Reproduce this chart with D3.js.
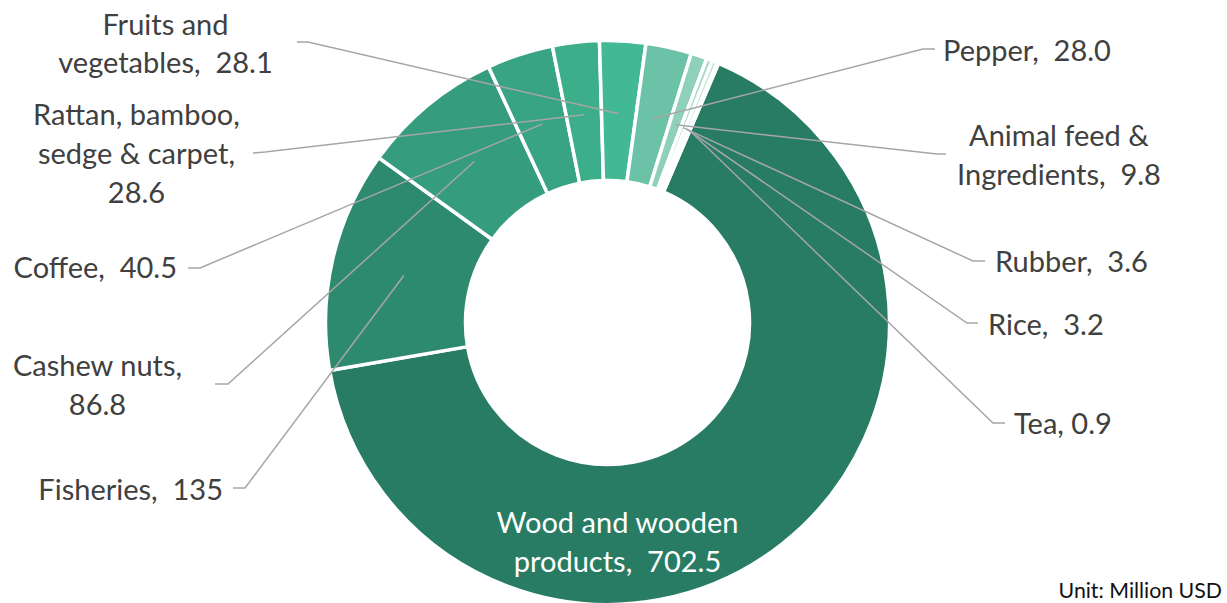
<!DOCTYPE html>
<html>
<head>
<meta charset="utf-8">
<script src="https://cdn.jsdelivr.net/npm/d3@7"></script>
<style>
  html, body { margin: 0; padding: 0; background: #ffffff; }
  svg text { white-space: pre; }
</style>
</head>
<body>
<svg id="chart" width="1227" height="603"></svg>
<script>
// ---------- DATA ----------
const categories = [
  "Wood and wooden products", "Fisheries", "Cashew nuts", "Coffee",
  "Rattan, bamboo, sedge & carpet", "Fruits and vegetables", "Pepper",
  "Animal feed & Ingredients", "Rubber", "Rice", "Tea"
];
const values = [702.5, 135, 86.8, 40.5, 28.6, 28.1, 28.0, 9.8, 3.6, 3.2, 0.9];
const valueLabels = ["702.5", "135", "86.8", "40.5", "28.6", "28.1", "28.0", "9.8", "3.6", "3.2", "0.9"];
const unitLabel = "Unit: Million USD";

// ---------- STYLE / LAYOUT ----------
const colors = ["#287c64", "#2e8a6f", "#359d7e", "#38a483", "#3cae8a", "#42b994",
                "#6cc2a6", "#8fd0b8", "#a9dbc8", "#c0e5d7", "#d6efe5"];
const cx = 607.5, cy = 322.5, rOuter = 282, rInner = 142;
const startDeg = 23.2;
const fontFamily = "Lato, 'Open Sans', sans-serif";
const fontSize = 29;

// label text lines (layout), leader stub points near text
const labelLayout = [
  { lines: ["Wood and wooden", "products,  " + valueLabels[0]], x: 617.5, base: [533, 572], anchor: "middle", fill: "#ffffff", stub: null },
  { lines: ["Fisheries,  " + valueLabels[1]], x: 223, base: [500], anchor: "end", stub: [[233, 488], [245, 488]] },
  { lines: ["Cashew nuts,", valueLabels[2]], x: 97.5, base: [376, 415], anchor: "middle", stub: [[215, 384], [228, 384]] },
  { lines: ["Coffee,  " + valueLabels[3]], x: 177, base: [278], anchor: "end", stub: [[188, 268], [200, 268]] },
  { lines: ["Rattan, bamboo,", "sedge & carpet,", valueLabels[4]], x: 136.5, base: [125, 164, 203], anchor: "middle", stub: [[253, 153], [265, 152]] },
  { lines: ["Fruits and", "vegetables,  " + valueLabels[5]], x: 165.5, base: [35, 73], anchor: "middle", stub: [[297, 42], [308, 42]] },
  { lines: ["Pepper,  " + valueLabels[6]], x: 943, base: [61], anchor: "start", stub: [[935, 49], [923, 49]] },
  { lines: ["Animal feed &", "Ingredients,  " + valueLabels[7]], x: 1059, base: [146, 185], anchor: "middle", stub: [[946, 154], [937, 154]] },
  { lines: ["Rubber,  " + valueLabels[8]], x: 995, base: [272], anchor: "start", stub: [[985, 261], [973, 261]] },
  { lines: ["Rice,  " + valueLabels[9]], x: 988, base: [335], anchor: "start", stub: [[978, 323], [967, 323]] },
  { lines: ["Tea, " + valueLabels[10]], x: 1014, base: [434], anchor: "start", stub: [[1005, 423], [993, 423]] }
];

// ---------- DRAW ----------
const svg = d3.select("#chart");
const a0 = startDeg * Math.PI / 180;
const pie = d3.pie().sort(null).value(d => d.v).startAngle(a0).endAngle(a0 + 2 * Math.PI);
const data = categories.map((c, i) => ({ c, v: values[i], i }));
const arcs = pie(data);

const arc = d3.arc().innerRadius(rInner).outerRadius(rOuter);
const midArc = d3.arc().innerRadius((rInner + rOuter) / 2 - 3).outerRadius((rInner + rOuter) / 2 - 3);

const g = svg.append("g").attr("transform", `translate(${cx},${cy})`);
g.selectAll("path.slice")
  .data(arcs)
  .join("path")
  .attr("class", "slice")
  .attr("d", arc)
  .attr("fill", d => colors[d.data.i])
  .attr("stroke", "#ffffff")
  .attr("stroke-width", 3.5)
  .attr("stroke-linejoin", "miter");

// leader lines
const leaders = svg.append("g");
arcs.forEach((d, i) => {
  const L = labelLayout[i];
  if (!L.stub) return;
  const c = midArc.centroid(d);
  const pts = [L.stub[0], L.stub[1], [cx + c[0], cy + c[1]]];
  leaders.append("path")
    .attr("d", d3.line()(pts))
    .attr("fill", "none")
    .attr("stroke", "#a6a6a6")
    .attr("stroke-width", 1.5);
});

// labels
const labels = svg.append("g")
  .attr("font-family", fontFamily)
  .attr("font-size", fontSize);
labelLayout.forEach((L) => {
  L.lines.forEach((line, k) => {
    labels.append("text")
      .attr("x", L.x)
      .attr("y", L.base[k])
      .attr("text-anchor", L.anchor)
      .attr("fill", L.fill || "#404040")
      .text(line);
  });
});

svg.append("text")
  .attr("x", 1222)
  .attr("y", 598)
  .attr("text-anchor", "end")
  .attr("font-family", fontFamily)
  .attr("font-size", 21.3)
  .attr("fill", "#111111")
  .text(unitLabel);
</script>
</body>
</html>
